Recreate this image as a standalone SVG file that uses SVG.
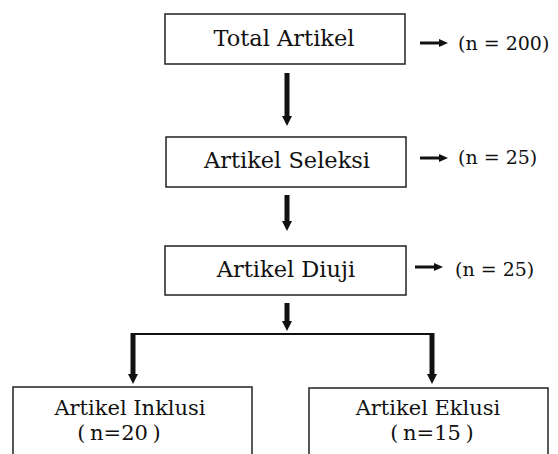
<svg xmlns="http://www.w3.org/2000/svg" width="558" height="454" viewBox="0 0 558 454">
<style>
.box{fill:#fff;stroke:#222;stroke-width:1.5}
.t{font-family:"DejaVu Serif","Liberation Serif",serif;font-size:21px;fill:#111;text-anchor:middle}
.tl{font-size:22.5px}
.ws{word-spacing:-2px}
.n{font-family:"DejaVu Serif","Liberation Serif",serif;font-size:19px;fill:#111}
.thick{stroke:#111;stroke-width:5;fill:none}
.thin{stroke:#111;stroke-width:3;fill:none}
.hl{stroke:#111;stroke-width:2;fill:none}
</style>
<defs>
<marker id="big" markerUnits="userSpaceOnUse" markerWidth="12" markerHeight="10" refX="0" refY="5" orient="auto" viewBox="0 0 12 10">
<path d="M0,0 L10,5 L0,10 Z" fill="#111"/>
</marker>
<marker id="small" markerUnits="userSpaceOnUse" markerWidth="10" markerHeight="8" refX="0" refY="4" orient="auto" viewBox="0 0 10 8">
<path d="M0,0 L9,4 L0,8 Z" fill="#111"/>
</marker>
</defs>
<rect width="558" height="454" fill="#fff"/>
<g id="connectors">
<line class="thick" x1="287" y1="73" x2="287" y2="116" marker-end="url(#big)"/>
<line class="thick" x1="287" y1="195" x2="287" y2="221" marker-end="url(#big)"/>
<line class="thick" x1="287" y1="303" x2="287" y2="321" marker-end="url(#big)"/>
<polyline class="hl" points="133,334 432,334"/>
<line class="thick" x1="133" y1="333" x2="133" y2="374" marker-end="url(#big)"/>
<line class="thick" x1="432" y1="333" x2="432" y2="374" marker-end="url(#big)"/>
<line class="thin" x1="420" y1="43" x2="439" y2="43" marker-end="url(#small)"/>
<line class="thin" x1="420" y1="158" x2="439" y2="158" marker-end="url(#small)"/>
<line class="thin" x1="415" y1="267" x2="434" y2="267" marker-end="url(#small)"/>
</g>
<g id="total">
<rect class="box" x="165" y="14" width="240" height="50"/>
<text class="t tl" x="284" y="46">Total Artikel</text>
<text class="n" x="458" y="50">(n = 200)</text>
</g>
<g id="seleksi">
<rect class="box" x="166" y="137" width="240" height="50"/>
<text class="t tl" x="287" y="168">Artikel Seleksi</text>
<text class="n" x="458" y="164">(n = 25)</text>
</g>
<g id="diuji">
<rect class="box" x="165" y="246" width="241" height="49"/>
<text class="t tl" x="286" y="277">Artikel Diuji</text>
<text class="n" x="455" y="276">(n = 25)</text>
</g>
<g id="inklusi">
<rect class="box" x="13" y="387" width="239" height="80"/>
<text class="t" x="130" y="415">Artikel Inklusi</text>
<text class="t ws" x="119" y="440">( n=20 )</text>
</g>
<g id="eklusi">
<rect class="box" x="309" y="388" width="239" height="80"/>
<text class="t" x="428" y="415">Artikel Eklusi</text>
<text class="t ws" x="432" y="440">( n=15 )</text>
</g>
</svg>
